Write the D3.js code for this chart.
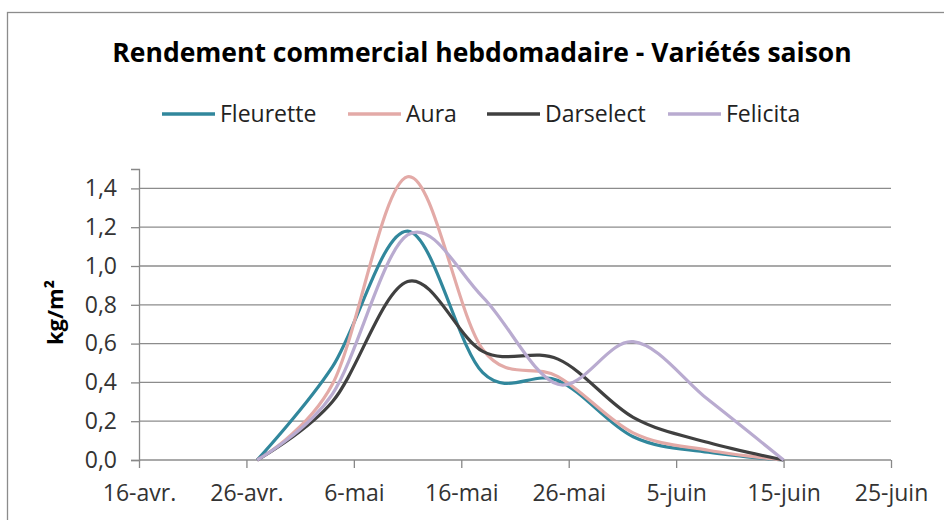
<!DOCTYPE html>
<html>
<head>
<meta charset="utf-8">
<script src="https://cdn.jsdelivr.net/npm/d3@7"></script>
<style>
  body { margin: 0; background: #fff; }
  svg text { font-family: 'Open Sans', Lato, sans-serif; }
  .tick line { stroke: #888; stroke-width: 1.3; }
  .grid line { stroke: #8c8c8c; stroke-width: 1.3; }
  .title { font-size: 26.5px; font-weight: bold; fill: #000; }
  .legend text { font-size: 23px; fill: #222; }
  .axis-label { font-size: 22px; font-weight: bold; fill: #000; }
  .line-path { fill: none; stroke-width: 3.2; }
</style>
</head>
<body>
<svg width="944" height="520"></svg>
<script>
const svg = d3.select('svg')

const parse = d3.timeParse('%Y-%m-%d')

const weeks = ['2013-04-27', '2013-05-04', '2013-05-11', '2013-05-18', '2013-05-25', '2013-06-01', '2013-06-08', '2013-06-15']
const fleurette = [0, 0.48, 1.18, 0.45, 0.41, 0.12, 0.04, 0]
const aura = [0, 0.39, 1.46, 0.57, 0.43, 0.14, 0.05, 0]
const darselect = [0, 0.30, 0.92, 0.56, 0.52, 0.22, 0.09, 0]
const felicita = [0, 0.34, 1.16, 0.84, 0.39, 0.61, 0.31, 0]

const seriesNames = ['Fleurette', 'Aura', 'Darselect', 'Felicita']
const seriesColors = ['#31879c', '#e3aaa7', '#404040', '#b9abd0']
const seriesValues = [fleurette, aura, darselect, felicita]

const xTicks = ['2013-04-16', '2013-04-26', '2013-05-06', '2013-05-16', '2013-05-26', '2013-06-05', '2013-06-15', '2013-06-25']
const xTickLabels = ['16-avr.', '26-avr.', '6-mai', '16-mai', '26-mai', '5-juin', '15-juin', '25-juin']
const yTicks = [0, 0.2, 0.4, 0.6, 0.8, 1.0, 1.2, 1.4]

const margin = { top: 169, right: 53, bottom: 60, left: 139 }
const width = +svg.attr('width')
const height = +svg.attr('height')
const innerWidth = width - margin.left - margin.right
const innerHeight = height - margin.top - margin.bottom

// chart frame
svg.append('rect')
  .attr('x', 7.5)
  .attr('y', 12.5)
  .attr('width', 960)
  .attr('height', 540)
  .attr('fill', 'none')
  .attr('stroke', '#8c8c8c')
  .attr('stroke-width', 1.3)

const xScale = d3.scaleTime()
  .domain([parse(xTicks[0]), parse(xTicks[xTicks.length - 1])])
  .range([0, innerWidth])

const yScale = d3.scaleLinear()
  .domain([0, 1.5])
  .range([innerHeight, 0])

const g = svg.append('g')
  .attr('transform', `translate(${margin.left}, ${margin.top})`)

// gridlines
g.append('g')
  .attr('class', 'grid')
  .selectAll('line')
  .data(yTicks)
  .join('line')
  .attr('x1', 0)
  .attr('x2', innerWidth)
  .attr('y1', d => yScale(d))
  .attr('y2', d => yScale(d))

const fmt = d3.format('.1f')
const yAxis = d3.axisLeft(yScale)
  .tickValues(yTicks)
  .tickSize(8)
  .tickPadding(14)
  .tickFormat(d => fmt(d).replace('.', ','))

const yAxisGroup = g.append('g').call(yAxis)
yAxisGroup.select('.domain').attr('stroke', '#888').attr('stroke-width', 1.3)

const xAxis = d3.axisBottom(xScale)
  .tickValues(xTicks.map(parse))
  .tickSize(8)
  .tickPadding(17)
  .tickFormat((d, i) => xTickLabels[i])

const xAxisGroup = g.append('g').call(xAxis)
  .attr('transform', `translate(0, ${innerHeight})`)
xAxisGroup.select('.domain').remove()

g.selectAll('.tick text')
  .style('font-family', "'Open Sans', Lato, sans-serif")
  .style('font-size', '23px')
  .style('fill', '#333')

yAxisGroup.append('text')
  .attr('class', 'axis-label')
  .attr('x', -innerHeight / 2 + 2)
  .attr('y', -76)
  .attr('transform', 'rotate(-90)')
  .attr('text-anchor', 'middle')
  .text('kg/m²')

const lineGenerator = d3.line()
  .x((d, i) => xScale(parse(weeks[i])))
  .y(d => yScale(d))
  .curve(d3.curveCardinal.tension(0))

g.selectAll('.line-path')
  .data(seriesValues)
  .join('path')
  .attr('class', 'line-path')
  .attr('stroke', (d, i) => seriesColors[i])
  .attr('d', d => lineGenerator(d))

svg.append('text')
  .attr('class', 'title')
  .attr('x', 482)
  .attr('y', 62)
  .attr('text-anchor', 'middle')
  .text('Rendement commercial hebdomadaire  - Variétés saison')

// legend
const legendX = [162, 348, 487, 668]
const legend = svg.append('g').attr('class', 'legend')
const items = legend.selectAll('g')
  .data(seriesNames)
  .join('g')
  .attr('transform', (d, i) => `translate(${legendX[i]}, 114)`)
items.append('line')
  .attr('x1', 0)
  .attr('x2', 53)
  .attr('stroke', (d, i) => seriesColors[i])
  .attr('stroke-width', 3.5)
items.append('text')
  .attr('x', 58)
  .attr('dy', '0.35em')
  .text(d => d)
</script>
</body>
</html>
